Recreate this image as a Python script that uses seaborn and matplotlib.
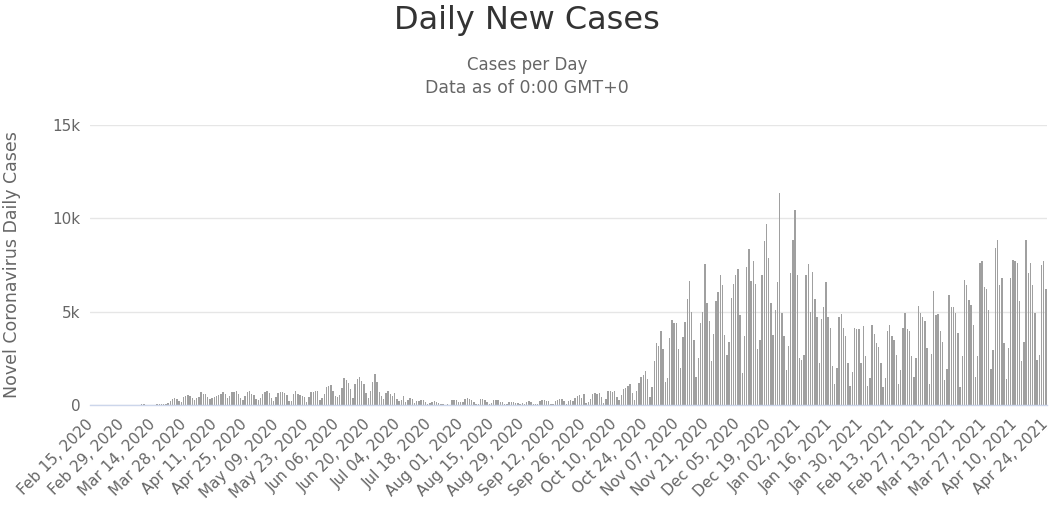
import numpy as np
import pandas as pd
import seaborn as sns
import matplotlib.pyplot as plt

# daily new cases (Feb 15, 2020 -> Apr 24, 2021)
feb_2020 = [0, 0, 0, 0, 0, 0, 0, 0, 0, 0, 0, 1, 5, 5, 2]
mar_2020 = [0, 0, 0, 0, 0, 0, 0, 20, 70, 60, 10, 5, 10, 5, 20, 60, 70, 60, 50, 40,
            100, 215, 300, 360, 340, 215, 150, 430, 465, 520, 500]
apr_2020 = [400, 270, 350, 430, 680, 610, 570, 430, 300, 390, 430, 465, 540, 570, 680,
            570, 390, 480, 680, 680, 750, 610, 400, 290, 500, 720, 750, 610, 540, 300]
may_2020 = [250, 390, 570, 680, 750, 660, 400, 215, 430, 660, 670, 680, 640, 540, 215, 215,
            570, 750, 610, 550, 465, 430, 180, 430, 700, 720, 750, 750, 250, 390, 610]
jun_2020 = [970, 1000, 1070, 750, 500, 430, 540, 930, 1430, 1320, 1200, 880, 390, 1150, 1380,
            1500, 1300, 1150, 660, 390, 750, 1250, 1650, 1250, 720, 500, 300, 660, 750, 570]
jul_2020 = [500, 640, 300, 215, 250, 465, 180, 250, 360, 320, 125, 215, 215, 250, 290, 180,
            60, 100, 180, 215, 140, 100, 40, 30, 20, 30, 20, 250, 250, 250, 180]
aug_2020 = [150, 180, 320, 360, 320, 250, 180, 60, 40, 320, 320, 290, 180, 60, 100, 250,
            290, 250, 140, 140, 40, 30, 140, 180, 160, 125, 100, 30, 100, 80, 160]
sep_2020 = [215, 140, 60, 40, 30, 215, 250, 250, 215, 215, 60, 40, 215, 290, 300, 320,
            215, 60, 215, 290, 200, 390, 500, 540, 390, 590, 90, 150, 300, 590]
oct_2020 = [630, 600, 630, 410, 90, 300, 730, 730, 720, 730, 410, 270, 550, 840, 910, 1000,
            1130, 630, 270, 730, 1200, 1490, 1610, 1840, 1380, 410, 980, 2380, 3310, 3170, 3970]
nov_2020 = [3000, 1220, 1450, 3580, 4550, 4390, 4390, 3000, 2000, 3650, 4440, 5690, 6660, 5000,
            3490, 1520, 2500, 4390, 4960, 7550, 5440, 4480, 2360, 3800, 5580, 6050, 6950, 6440,
            3760, 2690]
dec_2020 = [3400, 5730, 6480, 6980, 7300, 4800, 1700, 3720, 7370, 8380, 6620, 7730, 6480, 3010,
            3490, 6980, 8770, 9670, 7880, 5440, 3760, 5100, 6590, 11370, 4920, 3720, 1880, 3170,
            7070, 8860, 10470]
jan_2021 = [6980, 2510, 2420, 2690, 6980, 7550, 4980, 7120, 5690, 4690, 2240, 4620, 5240, 6570,
            4690, 4120, 2110, 1130, 2000, 4690, 4870, 4120, 3670, 2240, 1040, 1750, 4120, 4060,
            4080, 2240, 4210]
feb_2021 = [2600, 1040, 1430, 4300, 3800, 3310, 3130, 2240, 980, 1430, 3970, 4260, 3720, 3490,
            2690, 1110, 1860, 4120, 4940, 4050, 3970, 2650, 1520, 2510, 5330, 4920, 4740, 4510]
mar_2021 = [3040, 1110, 2720, 6120, 4800, 4870, 3970, 3400, 1340, 1930, 5910, 5230, 5230, 4920,
            3850, 980, 2650, 6710, 6410, 5640, 5370, 4300, 1520, 2600, 7610, 7700, 6300, 6230,
            5100, 1930, 2920]
apr_2021 = [8410, 8860, 6410, 6800, 3310, 1400, 3080, 6800, 7790, 7730, 7610, 5580, 2360, 3400,
            8860, 7070, 7610, 6410, 4920, 2420, 2690, 7520, 7700, 6230]

daily_cases = (feb_2020 + mar_2020 + apr_2020 + may_2020 + jun_2020 + jul_2020 + aug_2020
               + sep_2020 + oct_2020 + nov_2020 + dec_2020 + jan_2021 + feb_2021 + mar_2021
               + apr_2021)
dates = pd.date_range("2020-02-15", periods=len(daily_cases), freq="D")
date_labels = list(dates.strftime("%b %d, %Y"))

y_ticks = [0, 5000, 10000, 15000]
y_tick_labels = ["0", "5k", "10k", "15k"]

df = pd.DataFrame({"date": date_labels, "cases": daily_cases})

sns.set_style("white")
plt.rcParams["font.family"] = ["DejaVu Sans"]

fig = plt.figure(figsize=(10.54, 5.15), dpi=100)
ax = fig.add_axes([90 / 1054, 110 / 515, 957 / 1054, 280 / 515])

sns.barplot(data=df, x="date", y="cases", color="#a0a0a0", saturation=1,
            width=0.72, errorbar=None, ax=ax, linewidth=0)

n = len(daily_cases)
ax.set_xlim(-0.5, n - 0.5)
ax.set_ylim(0, 15000)
ax.set_xticks(range(0, n, 14))
ax.set_xticklabels(date_labels[::14], rotation=45, ha="right", va="center",
                   rotation_mode="anchor", fontsize=11, color="#666666")
ax.set_yticks(y_ticks)
ax.set_yticklabels(y_tick_labels, fontsize=11, color="#666666")
ax.tick_params(axis="both", length=0)
ax.tick_params(axis="x", pad=12)
ax.tick_params(axis="y", pad=7)
ax.set_xlabel("")
ax.set_ylabel("")

ax.yaxis.grid(True, color="#e6e6e6", linewidth=1)
ax.set_axisbelow(True)
for side in ["left", "right", "top"]:
    ax.spines[side].set_visible(False)
ax.spines["bottom"].set_color("#ccd6eb")
ax.spines["bottom"].set_linewidth(1)

fig.text(0.5, 1 - 20 / 515, "Daily New Cases", ha="center", va="center",
         fontsize=23, color="#333333")
fig.text(0.5, 1 - 65 / 515, "Cases per Day", ha="center", va="center",
         fontsize=12, color="#666666")
fig.text(0.5, 1 - 88 / 515, "Data as of 0:00 GMT+0", ha="center", va="center",
         fontsize=12.5, color="#666666")
fig.text(12 / 1054, 1 - 265 / 515, "Novel Coronavirus Daily Cases", rotation=90,
         ha="center", va="center", fontsize=12.5, color="#666666")

fig.savefig("out.png", dpi=100)
